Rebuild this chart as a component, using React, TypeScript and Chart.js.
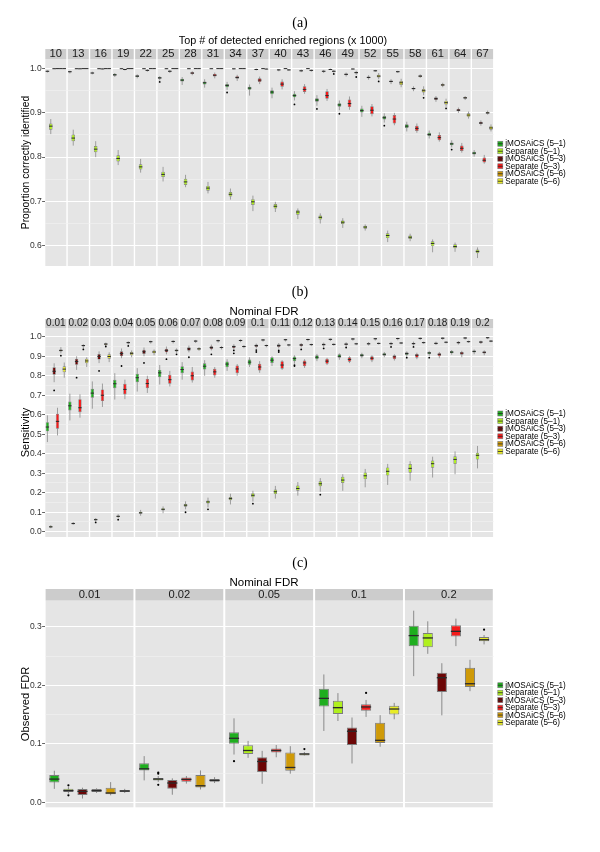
import React, { useEffect, useRef } from 'react';
import { Chart, registerables } from 'chart.js';

Chart.register(...registerables);

const FONT = '"Liberation Sans", Arial, sans-serif';
const SERIF = '"Liberation Serif", "DejaVu Serif", serif';

const SERIES = ['jMOSAiCS (5–1)', 'Separate (5–1)', 'jMOSAiCS (5–3)', 'Separate (5–3)', 'jMOSAiCS (5–6)', 'Separate (5–6)'];
const COLORS = ['#1fae1f', '#b0f01e', '#6c0606', '#f41a1a', '#cf9a08', '#e8ec26'];

// ---------- Panel (a): [lo, q1, median, q3, hi] per facet ----------
const A_FACETS = ['10', '13', '16', '19', '22', '25', '28', '31', '34', '37', '40', '43', '46', '49', '52', '55', '58', '61', '64', '67'];
const A_YTICKS = [0.6, 0.65, 0.7, 0.75, 0.8, 0.85, 0.9, 0.95, 1.0];
const A_S0 = [
  [0.991, 0.993, 0.994, 0.995, 0.996], [0.989, 0.991, 0.993, 0.994, 0.995], [0.987, 0.989, 0.990, 0.991, 0.993],
  [0.981, 0.984, 0.986, 0.988, 0.990], [0.978, 0.981, 0.983, 0.985, 0.987], [0.973, 0.977, 0.979, 0.981, 0.983],
  [0.963, 0.971, 0.974, 0.977, 0.981], [0.957, 0.964, 0.968, 0.971, 0.976], [0.952, 0.958, 0.962, 0.965, 0.970],
  [0.939, 0.952, 0.956, 0.959, 0.964], [0.933, 0.942, 0.947, 0.951, 0.957], [0.928, 0.935, 0.939, 0.943, 0.949],
  [0.916, 0.925, 0.929, 0.933, 0.940], [0.906, 0.914, 0.918, 0.922, 0.928], [0.891, 0.901, 0.905, 0.910, 0.916],
  [0.878, 0.885, 0.889, 0.893, 0.899], [0.858, 0.866, 0.870, 0.874, 0.880], [0.842, 0.848, 0.851, 0.855, 0.860],
  [0.822, 0.827, 0.830, 0.833, 0.838], [0.801, 0.806, 0.809, 0.812, 0.816],
];
const A_S1 = [
  [0.852, 0.862, 0.870, 0.876, 0.886], [0.826, 0.836, 0.843, 0.851, 0.862], [0.800, 0.811, 0.818, 0.825, 0.836],
  [0.782, 0.790, 0.797, 0.804, 0.816], [0.765, 0.772, 0.778, 0.784, 0.796], [0.745, 0.755, 0.761, 0.767, 0.778],
  [0.732, 0.737, 0.744, 0.751, 0.760], [0.718, 0.724, 0.730, 0.735, 0.744], [0.704, 0.711, 0.716, 0.721, 0.729],
  [0.678, 0.692, 0.699, 0.705, 0.713], [0.676, 0.684, 0.689, 0.694, 0.699], [0.660, 0.670, 0.676, 0.680, 0.684],
  [0.650, 0.659, 0.664, 0.668, 0.673], [0.640, 0.649, 0.653, 0.657, 0.662], [0.634, 0.638, 0.642, 0.645, 0.648],
  [0.608, 0.617, 0.623, 0.628, 0.634], [0.610, 0.615, 0.619, 0.623, 0.627], [0.585, 0.599, 0.605, 0.610, 0.614],
  [0.586, 0.594, 0.598, 0.603, 0.607], [0.572, 0.583, 0.587, 0.591, 0.596],
];
const A_S2 = [
  [0.999, 0.9995, 0.9998, 1.0, 1.0], [0.999, 0.9995, 0.9998, 1.0, 1.0], [0.999, 0.9995, 0.9998, 1.0, 1.0],
  [0.999, 0.9995, 0.9998, 1.0, 1.0], [0.999, 0.9995, 0.9998, 1.0, 1.0], [0.999, 0.9995, 0.9998, 1.0, 1.0],
  [0.999, 0.9995, 0.9998, 1.0, 1.0], [0.999, 0.9995, 0.9998, 1.0, 1.0], [0.998, 0.999, 0.9995, 1.0, 1.0],
  [0.996, 0.997, 0.998, 0.999, 1.0], [0.994, 0.996, 0.997, 0.998, 0.999], [0.992, 0.994, 0.995, 0.996, 0.998],
  [0.990, 0.993, 0.994, 0.995, 0.997], [0.982, 0.985, 0.987, 0.989, 0.991], [0.975, 0.978, 0.980, 0.982, 0.985],
  [0.965, 0.969, 0.971, 0.973, 0.976], [0.949, 0.953, 0.955, 0.957, 0.960], [0.925, 0.929, 0.932, 0.935, 0.938],
  [0.900, 0.904, 0.906, 0.909, 0.912], [0.871, 0.875, 0.877, 0.880, 0.883],
];
const A_S3 = [
  [0.999, 0.9995, 1.0, 1.0, 1.0], [0.999, 0.9993, 0.9996, 1.0, 1.0], [0.998, 0.999, 0.9993, 0.9997, 1.0],
  [0.996, 0.997, 0.998, 0.999, 1.0], [0.993, 0.995, 0.996, 0.997, 0.999], [0.990, 0.993, 0.994, 0.995, 0.997],
  [0.985, 0.988, 0.990, 0.992, 0.994], [0.978, 0.982, 0.985, 0.988, 0.991], [0.972, 0.977, 0.980, 0.983, 0.986],
  [0.965, 0.970, 0.974, 0.978, 0.982], [0.953, 0.959, 0.965, 0.971, 0.976], [0.943, 0.947, 0.953, 0.960, 0.965],
  [0.927, 0.932, 0.939, 0.949, 0.954], [0.907, 0.913, 0.921, 0.930, 0.937], [0.892, 0.897, 0.906, 0.915, 0.920],
  [0.872, 0.876, 0.886, 0.895, 0.900], [0.855, 0.859, 0.865, 0.871, 0.876], [0.835, 0.838, 0.844, 0.850, 0.856],
  [0.810, 0.814, 0.820, 0.826, 0.832], [0.785, 0.788, 0.793, 0.799, 0.805],
];
const A_S4 = [
  [0.9995, 0.9998, 1.0, 1.0, 1.0], [0.9995, 0.9998, 1.0, 1.0, 1.0], [0.9995, 0.9998, 1.0, 1.0, 1.0],
  [0.9995, 0.9998, 1.0, 1.0, 1.0], [0.9995, 0.9998, 1.0, 1.0, 1.0], [0.9995, 0.9998, 1.0, 1.0, 1.0],
  [0.9995, 0.9998, 1.0, 1.0, 1.0], [0.9995, 0.9998, 1.0, 1.0, 1.0], [0.9995, 0.9998, 1.0, 1.0, 1.0],
  [0.9995, 0.9998, 1.0, 1.0, 1.0], [0.9995, 0.9998, 1.0, 1.0, 1.0], [0.9995, 0.9998, 1.0, 1.0, 1.0],
  [0.997, 0.998, 0.998, 0.999, 1.0], [0.998, 0.999, 0.999, 1.0, 1.0], [0.993, 0.994, 0.995, 0.996, 0.997],
  [0.990, 0.992, 0.993, 0.994, 0.995], [0.979, 0.981, 0.983, 0.985, 0.987], [0.958, 0.961, 0.963, 0.965, 0.968],
  [0.929, 0.932, 0.934, 0.936, 0.938], [0.896, 0.898, 0.900, 0.902, 0.905],
];
const A_S5 = [
  [0.999, 0.9995, 1.0, 1.0, 1.0], [0.999, 0.9995, 1.0, 1.0, 1.0], [0.999, 0.9995, 1.0, 1.0, 1.0],
  [0.999, 0.9995, 1.0, 1.0, 1.0], [0.999, 0.9995, 1.0, 1.0, 1.0], [0.999, 0.9995, 1.0, 1.0, 1.0],
  [0.999, 0.9995, 1.0, 1.0, 1.0], [0.999, 0.9995, 1.0, 1.0, 1.0], [0.999, 0.9995, 1.0, 1.0, 1.0],
  [0.998, 0.9985, 0.999, 0.9995, 1.0], [0.995, 0.996, 0.997, 0.998, 0.999], [0.993, 0.995, 0.996, 0.997, 0.998],
  [0.991, 0.993, 0.994, 0.995, 0.997], [0.986, 0.989, 0.991, 0.993, 0.995], [0.976, 0.980, 0.983, 0.986, 0.990],
  [0.958, 0.963, 0.968, 0.972, 0.977], [0.940, 0.946, 0.950, 0.954, 0.960], [0.914, 0.919, 0.923, 0.927, 0.932],
  [0.887, 0.891, 0.895, 0.899, 0.903], [0.858, 0.862, 0.866, 0.870, 0.874],
];
// [series, facet, value]
const A_OUTLIERS = [
  [0, 5, 0.970], [0, 8, 0.946], [0, 11, 0.919], [0, 12, 0.909], [0, 13, 0.898], [0, 15, 0.871], [0, 18, 0.817],
  [5, 12, 0.988], [5, 13, 0.981], [5, 14, 0.971], [5, 16, 0.934], [5, 17, 0.910],
];

// ---------- Panel (b) ----------
const B_FACETS = ['0.01', '0.02', '0.03', '0.04', '0.05', '0.06', '0.07', '0.08', '0.09', '0.1', '0.11', '0.12', '0.13', '0.14', '0.15', '0.16', '0.17', '0.18', '0.19', '0.2'];
const B_YTICKS = [0.0, 0.05, 0.1, 0.15, 0.2, 0.25, 0.3, 0.35, 0.4, 0.45, 0.5, 0.55, 0.6, 0.65, 0.7, 0.75, 0.8, 0.85, 0.9, 0.95, 1.0];
const B_S0 = [
  [0.46, 0.515, 0.537, 0.562, 0.597], [0.571, 0.622, 0.646, 0.668, 0.708], [0.631, 0.687, 0.711, 0.733, 0.771],
  [0.678, 0.736, 0.759, 0.779, 0.813], [0.719, 0.767, 0.79, 0.81, 0.839], [0.755, 0.793, 0.815, 0.83, 0.855],
  [0.78, 0.813, 0.832, 0.849, 0.87], [0.80, 0.832, 0.849, 0.864, 0.88], [0.825, 0.844, 0.86, 0.873, 0.885],
  [0.845, 0.856, 0.87, 0.883, 0.895], [0.85, 0.866, 0.88, 0.895, 0.90], [0.862, 0.875, 0.888, 0.899, 0.905],
  [0.875, 0.885, 0.895, 0.905, 0.912], [0.882, 0.893, 0.90, 0.91, 0.915], [0.89, 0.898, 0.905, 0.912, 0.918],
  [0.895, 0.903, 0.91, 0.916, 0.922], [0.898, 0.907, 0.914, 0.92, 0.925], [0.902, 0.91, 0.917, 0.922, 0.928],
  [0.908, 0.915, 0.921, 0.927, 0.932], [0.91, 0.919, 0.925, 0.93, 0.935],
];
const B_S1 = [
  [0.018, 0.022, 0.025, 0.03, 0.034], [0.036, 0.039, 0.042, 0.046, 0.05], [0.054, 0.058, 0.062, 0.066, 0.07],
  [0.07, 0.075, 0.079, 0.083, 0.09], [0.082, 0.092, 0.097, 0.102, 0.112], [0.095, 0.109, 0.115, 0.121, 0.13],
  [0.115, 0.128, 0.136, 0.142, 0.156], [0.125, 0.145, 0.153, 0.16, 0.175], [0.14, 0.162, 0.17, 0.178, 0.195],
  [0.155, 0.177, 0.187, 0.198, 0.21], [0.17, 0.193, 0.205, 0.216, 0.235], [0.185, 0.21, 0.222, 0.237, 0.255],
  [0.205, 0.233, 0.246, 0.259, 0.275], [0.21, 0.25, 0.265, 0.282, 0.295], [0.228, 0.27, 0.287, 0.304, 0.322],
  [0.24, 0.288, 0.31, 0.33, 0.348], [0.262, 0.303, 0.325, 0.347, 0.362], [0.278, 0.328, 0.349, 0.365, 0.385],
  [0.295, 0.348, 0.371, 0.387, 0.412], [0.325, 0.37, 0.392, 0.405, 0.44],
];
const B_S2 = [
  [0.767, 0.805, 0.823, 0.844, 0.864], [0.83, 0.856, 0.873, 0.887, 0.90], [0.865, 0.883, 0.899, 0.912, 0.925],
  [0.89, 0.90, 0.914, 0.926, 0.94], [0.90, 0.912, 0.923, 0.933, 0.945], [0.91, 0.92, 0.93, 0.938, 0.95],
  [0.92, 0.928, 0.938, 0.946, 0.955], [0.93, 0.936, 0.945, 0.952, 0.96], [0.935, 0.942, 0.95, 0.955, 0.962],
  [0.94, 0.948, 0.955, 0.96, 0.965], [0.94, 0.948, 0.955, 0.962, 0.968], [0.945, 0.952, 0.958, 0.963, 0.968],
  [0.948, 0.955, 0.96, 0.965, 0.97], [0.952, 0.958, 0.962, 0.967, 0.972], [0.955, 0.96, 0.964, 0.968, 0.973],
  [0.955, 0.96, 0.965, 0.969, 0.974], [0.955, 0.96, 0.965, 0.969, 0.975], [0.958, 0.962, 0.966, 0.97, 0.975],
  [0.96, 0.965, 0.97, 0.974, 0.978], [0.963, 0.968, 0.973, 0.977, 0.98],
];
const B_S3 = [
  [0.494, 0.528, 0.566, 0.605, 0.636], [0.585, 0.613, 0.636, 0.68, 0.705], [0.64, 0.67, 0.70, 0.73, 0.76],
  [0.68, 0.704, 0.73, 0.759, 0.78], [0.712, 0.736, 0.76, 0.784, 0.80], [0.745, 0.759, 0.78, 0.805, 0.825],
  [0.765, 0.776, 0.80, 0.822, 0.845], [0.79, 0.801, 0.82, 0.836, 0.845], [0.80, 0.813, 0.835, 0.853, 0.86],
  [0.815, 0.827, 0.845, 0.861, 0.875], [0.83, 0.836, 0.855, 0.875, 0.88], [0.84, 0.849, 0.866, 0.878, 0.885],
  [0.855, 0.861, 0.875, 0.887, 0.892], [0.865, 0.872, 0.884, 0.895, 0.90], [0.87, 0.878, 0.89, 0.90, 0.905],
  [0.878, 0.885, 0.897, 0.905, 0.91], [0.885, 0.893, 0.905, 0.912, 0.918], [0.89, 0.90, 0.91, 0.916, 0.922],
  [0.895, 0.908, 0.916, 0.922, 0.928], [0.905, 0.914, 0.92, 0.926, 0.93],
];
const B_S4 = [
  [0.915, 0.924, 0.93, 0.935, 0.947], [0.94, 0.95, 0.955, 0.958, 0.962], [0.952, 0.958, 0.963, 0.966, 0.97],
  [0.96, 0.966, 0.97, 0.973, 0.977], [0.965, 0.971, 0.975, 0.977, 0.98], [0.966, 0.972, 0.976, 0.979, 0.982],
  [0.968, 0.974, 0.978, 0.981, 0.984], [0.97, 0.976, 0.98, 0.982, 0.985], [0.972, 0.978, 0.981, 0.984, 0.987],
  [0.975, 0.98, 0.984, 0.986, 0.988], [0.976, 0.981, 0.985, 0.987, 0.989], [0.977, 0.982, 0.986, 0.988, 0.99],
  [0.978, 0.983, 0.987, 0.989, 0.991], [0.98, 0.985, 0.989, 0.991, 0.993], [0.981, 0.986, 0.99, 0.992, 0.994],
  [0.982, 0.987, 0.991, 0.993, 0.995], [0.983, 0.988, 0.992, 0.994, 0.996], [0.985, 0.989, 0.993, 0.995, 0.997],
  [0.986, 0.99, 0.994, 0.996, 0.997], [0.988, 0.992, 0.995, 0.997, 0.998],
];
const B_S5 = [
  [0.79, 0.818, 0.834, 0.849, 0.868], [0.845, 0.864, 0.876, 0.887, 0.895], [0.87, 0.887, 0.899, 0.91, 0.92],
  [0.895, 0.905, 0.915, 0.922, 0.93], [0.905, 0.915, 0.922, 0.929, 0.935], [0.918, 0.924, 0.93, 0.935, 0.94],
  [0.928, 0.933, 0.938, 0.942, 0.947], [0.935, 0.941, 0.945, 0.948, 0.952], [0.941, 0.946, 0.95, 0.953, 0.957],
  [0.946, 0.951, 0.955, 0.957, 0.96], [0.95, 0.955, 0.958, 0.96, 0.963], [0.952, 0.957, 0.96, 0.962, 0.965],
  [0.954, 0.958, 0.961, 0.963, 0.966], [0.957, 0.961, 0.964, 0.966, 0.969], [0.96, 0.963, 0.966, 0.968, 0.971],
  [0.962, 0.965, 0.968, 0.97, 0.973], [0.964, 0.967, 0.97, 0.972, 0.975], [0.966, 0.969, 0.972, 0.974, 0.977],
  [0.969, 0.972, 0.975, 0.977, 0.98], [0.972, 0.975, 0.978, 0.98, 0.983],
];
const B_OUTLIERS = [
  [0, 11, 0.855], [0, 11, 0.85], [0, 16, 0.893], [0, 17, 0.893],
  [1, 2, 0.048], [1, 3, 0.062], [1, 6, 0.10], [1, 7, 0.115], [1, 9, 0.144], [1, 12, 0.19],
  [2, 0, 0.725], [2, 1, 0.79], [2, 2, 0.825], [2, 3, 0.85], [2, 4, 0.866], [2, 5, 0.885], [2, 6, 0.895], [2, 7, 0.91],
  [2, 8, 0.93], [2, 8, 0.915], [2, 9, 0.932], [2, 9, 0.922], [2, 10, 0.93], [2, 10, 0.922], [2, 11, 0.935],
  [2, 12, 0.94], [2, 13, 0.945], [2, 15, 0.948], [2, 16, 0.948],
  [4, 0, 0.903], [4, 1, 0.935], [4, 2, 0.95], [4, 3, 0.953],
  [5, 5, 0.91],
];

// ---------- Panel (c) ----------
const C_FACETS = ['0.01', '0.02', '0.05', '0.1', '0.2'];
const C_YTICKS = [0.0, 0.05, 0.1, 0.15, 0.2, 0.25, 0.3];
const C_S0 = [[0.023, 0.034, 0.0397, 0.0465, 0.054], [0.0375, 0.0545, 0.0573, 0.067, 0.079], [0.0817, 0.10, 0.1095, 0.12, 0.1436], [0.122, 0.164, 0.1777, 0.194, 0.2186], [0.2157, 0.2668, 0.285, 0.302, 0.3276]];
const C_S1 = [[0.015, 0.0176, 0.020, 0.023, 0.026], [0.035, 0.0375, 0.0397, 0.0414, 0.045], [0.076, 0.0828, 0.0886, 0.0976, 0.105], [0.139, 0.151, 0.1618, 0.1737, 0.1867], [0.2538, 0.265, 0.281, 0.2896, 0.3094]];
const C_S2 = [[0.0065, 0.0124, 0.0187, 0.0227, 0.025], [0.013, 0.023, 0.033, 0.038, 0.041], [0.0317, 0.052, 0.0698, 0.077, 0.088], [0.0664, 0.098, 0.1215, 0.128, 0.145], [0.1487, 0.1884, 0.213, 0.2215, 0.2378]];
const C_S3 = [[0.016, 0.0176, 0.020, 0.0227, 0.024], [0.032, 0.035, 0.0392, 0.0426, 0.045], [0.077, 0.085, 0.0886, 0.092, 0.098], [0.146, 0.1567, 0.163, 0.1675, 0.175], [0.267, 0.2833, 0.2923, 0.3026, 0.314]];
const C_S4 = [[0.012, 0.0136, 0.016, 0.025, 0.0346], [0.022, 0.0255, 0.0283, 0.0465, 0.0545], [0.049, 0.054, 0.0596, 0.085, 0.096], [0.095, 0.1015, 0.106, 0.136, 0.149], [0.19, 0.197, 0.2027, 0.23, 0.2436]];
const C_S5 = [[0.016, 0.0176, 0.0193, 0.021, 0.023], [0.033, 0.035, 0.0375, 0.040, 0.043], [0.080, 0.080, 0.0826, 0.084, 0.086], [0.142, 0.150, 0.1595, 0.165, 0.17], [0.27, 0.2753, 0.278, 0.2828, 0.286]];
const C_OUTLIERS = [[1, 0, 0.029], [1, 0, 0.012], [1, 1, 0.051], [1, 1, 0.049], [1, 1, 0.030], [0, 2, 0.0704], [5, 2, 0.091], [3, 3, 0.187], [5, 4, 0.2952]];

// ---------- styling / layout ----------
const PANEL_BG = '#E5E5E5';
const STRIP_BG = '#CCCCCC';
const BOX_EDGE = '#7c7c7c';
const WHISKER = '#8a8a8a';
const MEDIAN = '#2a2a2a';
const Y_AXIS_W = 44.6;
const RIGHT_PAD = 106.2;

const PANELS = [
  {
    key: 'a', label: '(a)', labelY: 23, title: 'Top # of detected enriched regions (x 1000)', titleX: 283, titleY: 41.5, titleSize: 10.8,
    yTitle: 'Proportion correctly identified', yTitleSize: 10.3,
    facets: A_FACETS, stats: [A_S0, A_S1, A_S2, A_S3, A_S4, A_S5], outliers: A_OUTLIERS, yTicks: A_YTICKS, yMin: 0.554, yMax: 1.0217,
    top: 0, height: 276, axisH: 59, padBottom: 10, stripTop: 49, stripFont: 11.2, stripPad: 0,
    gap: 1.4, catPct: 0.9, barPct: 1.05, boxBorder: 0.7, whiskerW: 0.8, medianW: 1, dotR: 0.9, legendStep: 7.5,
  },
  {
    key: 'b', label: '(b)', labelY: 16, title: 'Nominal FDR', titleX: 264, titleY: 36.3, titleSize: 11.5,
    yTitle: 'Sensitivity', yTitleSize: 11,
    facets: B_FACETS, stats: [B_S0, B_S1, B_S2, B_S3, B_S4, B_S5], outliers: B_OUTLIERS, yTicks: B_YTICKS, yMin: -0.027, yMax: 1.045,
    top: 276, height: 268, axisH: 52, padBottom: 7, stripTop: 43, stripFont: 10, stripPad: 0,
    gap: 1.4, catPct: 0.9, barPct: 1.0, boxBorder: 0.7, whiskerW: 0.8, medianW: 1, dotR: 0.9, legendStep: 7.6,
  },
  {
    key: 'c', label: '(c)', labelY: 19.5, title: 'Nominal FDR', titleX: 264, titleY: 39.3, titleSize: 11.5,
    yTitle: 'Observed FDR', yTitleSize: 11.2,
    facets: C_FACETS, stats: [C_S0, C_S1, C_S2, C_S3, C_S4, C_S5], outliers: C_OUTLIERS, yTicks: C_YTICKS, yMin: -0.0085, yMax: 0.345,
    top: 544, height: 308, axisH: 56.5, padBottom: 44.7, stripTop: 45, stripFont: 11.2, stripPad: 0.7,
    gap: 2, catPct: 0.94, barPct: 0.72, boxBorder: 1, whiskerW: 1, medianW: 1.3, dotR: 1.1, legendStep: 7.45,
  },
];

const isMajor = (v: number) => Math.abs(v * 10 - Math.round(v * 10)) < 1e-6;
const fmt = (v: number) => (Math.abs(v) < 1e-9 ? 0 : Math.round(v * 10) / 10).toFixed(1);

function decor(p: any) {
  return {
    id: 'decor_' + p.key,
    beforeDraw(chart: any) {
      const { ctx, chartArea: a, scales } = chart;
      const x = scales.x;
      const w = (a.right - a.left) / p.facets.length;
      ctx.save();
      p.facets.forEach((_: string, i: number) => {
        const c = x.getPixelForValue(i);
        const l = c - w / 2 + p.gap / 2;
        const r = c + w / 2 - p.gap / 2;
        ctx.fillStyle = PANEL_BG;
        ctx.fillRect(l, a.top, r - l, a.bottom - a.top);
        ctx.fillStyle = STRIP_BG;
        ctx.fillRect(l, p.stripTop, r - l, a.top - p.stripTop);
      });
      ctx.restore();
    },
    beforeDatasetsDraw(chart: any) {
      const { ctx, scales } = chart;
      const y = scales.y;
      ctx.save();
      ctx.strokeStyle = WHISKER;
      ctx.lineWidth = p.whiskerW;
      p.stats.forEach((st: number[][], s: number) => {
        const meta = chart.getDatasetMeta(s);
        st.forEach((b: number[], i: number) => {
          const el = meta.data[i];
          if (!el) return;
          ctx.beginPath();
          ctx.moveTo(el.x, y.getPixelForValue(b[0]));
          ctx.lineTo(el.x, y.getPixelForValue(b[4]));
          ctx.stroke();
        });
      });
      ctx.restore();
    },
    afterDatasetsDraw(chart: any) {
      const { ctx, scales } = chart;
      const y = scales.y;
      ctx.save();
      ctx.strokeStyle = MEDIAN;
      ctx.lineWidth = p.medianW;
      p.stats.forEach((st: number[][], s: number) => {
        const meta = chart.getDatasetMeta(s);
        st.forEach((b: number[], i: number) => {
          const el = meta.data[i];
          if (!el) return;
          const py = y.getPixelForValue(b[2]);
          ctx.beginPath();
          ctx.moveTo(el.x - el.width / 2, py);
          ctx.lineTo(el.x + el.width / 2, py);
          ctx.stroke();
        });
      });
      ctx.fillStyle = '#000';
      p.outliers.forEach((o: number[]) => {
        const el = chart.getDatasetMeta(o[0]).data[o[1]];
        if (!el) return;
        ctx.beginPath();
        ctx.arc(el.x, y.getPixelForValue(o[2]), p.dotR, 0, Math.PI * 2);
        ctx.fill();
      });
      ctx.restore();
    },
    afterDraw(chart: any) {
      const { ctx, chartArea: a } = chart;
      ctx.save();
      ctx.fillStyle = '#000';
      ctx.textAlign = 'center';
      ctx.textBaseline = 'middle';
      ctx.font = `14px ${SERIF}`;
      ctx.fillText(p.label, chart.width / 2, p.labelY);
      ctx.font = `${p.titleSize}px ${FONT}`;
      ctx.fillText(p.title, p.titleX, p.titleY);
      // legend
      const mid = (a.top + a.bottom) / 2;
      chart.data.datasets.forEach((ds: any, s: number) => {
        const yy = mid + (s - 2.5) * p.legendStep;
        const kx = a.right + 4;
        ctx.fillStyle = ds.backgroundColor;
        ctx.fillRect(kx, yy - 2.5, 5, 5);
        ctx.strokeStyle = BOX_EDGE;
        ctx.lineWidth = 0.6;
        ctx.strokeRect(kx, yy - 2.5, 5, 5);
        ctx.strokeStyle = MEDIAN;
        ctx.lineWidth = 0.8;
        ctx.beginPath();
        ctx.moveTo(kx, yy);
        ctx.lineTo(kx + 5, yy);
        ctx.stroke();
        ctx.fillStyle = '#000';
        ctx.textAlign = 'left';
        ctx.font = `8.2px ${FONT}`;
        ctx.fillText(ds.label, kx + 7.5, yy + 0.3);
      });
      ctx.restore();
    },
  };
}

function buildConfig(p: any) {
  const datasets = p.stats.map((st: number[][], s: number) => ({
    type: 'bar',
    label: SERIES[s],
    data: st.map((b) => [b[1], b[3]]),
    backgroundColor: COLORS[s],
    borderColor: BOX_EDGE,
    borderWidth: p.boxBorder,
    borderSkipped: false,
    categoryPercentage: p.catPct,
    barPercentage: p.barPct,
  }));
  return {
    type: 'bar',
    data: { labels: p.facets, datasets },
    options: {
      responsive: false,
      animation: false,
      events: [],
      layout: { padding: { left: 0, right: RIGHT_PAD, top: 0, bottom: p.padBottom } },
      plugins: { legend: { display: false }, tooltip: { enabled: false }, title: { display: false } },
      scales: {
        x: {
          type: 'category',
          position: 'top',
          offset: true,
          grid: { display: false, drawTicks: false },
          border: { display: false },
          ticks: {
            autoSkip: false, maxRotation: 0, minRotation: 0, color: '#1a1a1a', padding: p.stripPad,
            font: { family: FONT, size: p.stripFont, lineHeight: 0.9 },
          },
          afterFit: (s: any) => { s.height = p.axisH; },
        },
        y: {
          type: 'linear',
          min: p.yMin,
          max: p.yMax,
          afterBuildTicks: (s: any) => { s.ticks = p.yTicks.map((v: number) => ({ value: v })); },
          grid: {
            color: (c: any) => (c.tick && isMajor(c.tick.value) ? '#FFFFFF' : '#F2F2F2'),
            lineWidth: (c: any) => (c.tick && isMajor(c.tick.value) ? 1 : 0.6),
            tickColor: (c: any) => (c.tick && isMajor(c.tick.value) ? '#666666' : 'rgba(0,0,0,0)'),
            tickLength: 2.5,
            drawTicks: true,
          },
          border: { display: false },
          ticks: {
            autoSkip: false, padding: 0.4, color: '#333333',
            font: { family: FONT, size: 8.5 },
            callback: (v: any) => (isMajor(Number(v)) ? fmt(Number(v)) : ''),
          },
          title: {
            display: true, text: p.yTitle, color: '#000000',
            font: { family: FONT, size: p.yTitleSize, lineHeight: 1.2 },
            padding: { top: 26 - p.yTitleSize * 0.6, bottom: 0 },
          },
          afterFit: (s: any) => { s.width = Y_AXIS_W; },
        },
      },
    },
    plugins: [decor(p)],
  };
}

function Panel({ spec }: { spec: any }) {
  const ref = useRef<HTMLCanvasElement | null>(null);
  useEffect(() => {
    if (!ref.current) return;
    const chart = new Chart(ref.current, buildConfig(spec) as any);
    return () => chart.destroy();
  }, [spec]);
  return (
    <canvas
      ref={ref}
      width={600}
      height={spec.height}
      style={{ position: 'absolute', left: 0, top: spec.top, width: 600, height: spec.height, display: 'block' }}
    />
  );
}

export default function App() {
  return (
    <div style={{ position: 'absolute', left: 0, top: 0, width: 600, height: 852, background: '#ffffff', overflow: 'hidden' }}>
      {PANELS.map((p) => (
        <Panel key={p.key} spec={p} />
      ))}
    </div>
  );
}
